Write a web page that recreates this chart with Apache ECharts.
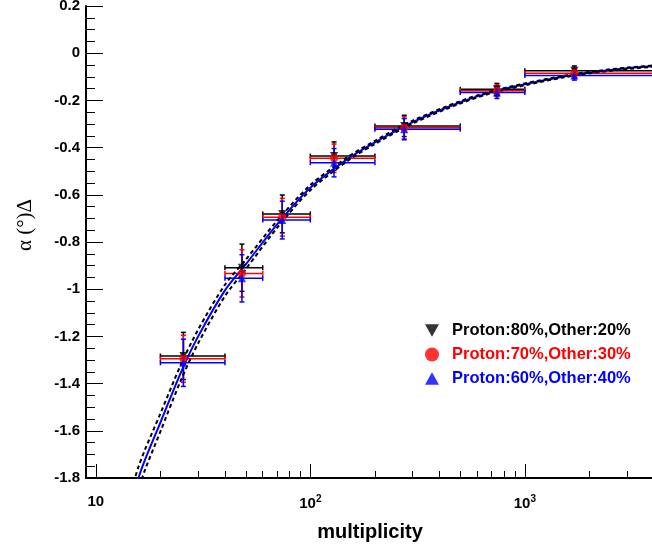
<!DOCTYPE html>
<html>
<head>
<meta charset="utf-8">
<script src="https://cdn.jsdelivr.net/npm/echarts@6/dist/echarts.min.js"></script>
<style>
  html, body { margin: 0; padding: 0; background: #fff; }
  #chart { width: 652px; height: 547px; }
</style>
</head>
<body>
<div id="chart"></div>
<script>
/* ── data ── */
var binMean = [25.6, 48, 74, 129, 274, 741, 1702];
var binLow  = [20, 40, 60, 100, 200, 500, 1000];
var binHigh = [40, 60, 100, 200, 500, 1000, 4000];

var p80 = [-1.283, -0.909, -0.681, -0.436, -0.308, -0.153, -0.074];
var p70 = [-1.295, -0.933, -0.695, -0.445, -0.316, -0.159, -0.085];
var p60 = [-1.312, -0.954, -0.707, -0.464, -0.322, -0.167, -0.094];
var err80 = [0.10, 0.10, 0.08, 0.06, 0.045, 0.025, 0.02];
var err70 = [0.10, 0.10, 0.08, 0.06, 0.047, 0.025, 0.02];
var err60 = [0.10, 0.10, 0.08, 0.06, 0.045, 0.025, 0.02];

// fit curve (solid blue) and its band (black dashed)
var fitM     = [15, 15.8, 17, 20, 25, 30, 40, 50, 70, 100, 150, 200, 300, 500, 700, 1000, 1500, 2000, 3000, 4000];
var fitMid   = [-1.87, -1.80, -1.72, -1.565, -1.35, -1.20, -1.005, -0.895, -0.725, -0.57, -0.447, -0.378, -0.292, -0.208, -0.165, -0.132, -0.100, -0.082, -0.064, -0.055];
var fitUpper = [-1.82, -1.753, -1.677, -1.527, -1.317, -1.171, -0.981, -0.875, -0.71, -0.559, -0.439, -0.371, -0.286, -0.203, -0.161, -0.128, -0.097, -0.079, -0.061, -0.052];
var fitLower = [-1.92, -1.847, -1.763, -1.603, -1.383, -1.229, -1.029, -0.915, -0.74, -0.581, -0.455, -0.385, -0.298, -0.213, -0.169, -0.136, -0.103, -0.085, -0.067, -0.058];

var xMajor  = [10, 100, 1000];
var xLabels = ['10', '10{sup|2}', '10{sup|3}'];
var xMinor  = [20, 30, 40, 50, 60, 70, 80, 90, 200, 300, 400, 500, 600, 700, 800, 900, 2000, 3000];

var names  = ['Proton:80%,Other:20%', 'Proton:70%,Other:30%', 'Proton:60%,Other:40%'];
var colors = ['#000000', '#ff0000', '#0000ff'];
var legendIcons = ['path://M0,0L10,0L5,9Z', 'circle', 'path://M5,0L10,9L0,9Z'];

var FONT = 'Liberation Sans, Arial, Helvetica, sans-serif';

/* ── helpers ── */
function pts(xs, ys) {
  return xs.map(function(x, i) { return [x, ys[i]]; });
}
function errData(ys, es) {
  return binMean.map(function(m, i) { return [m, ys[i], binLow[i], binHigh[i], es[i]]; });
}
function errSeries(ys, es, color) {
  return {
    type: 'custom', z: 2, clip: true, silent: true,
    data: errData(ys, es),
    encode: { x: 0, y: 1 },
    renderItem: function(params, api) {
      var x = api.value(0), y = api.value(1), lo = api.value(2), hi = api.value(3), e = api.value(4);
      var l = api.coord([lo, y]), h = api.coord([hi, y]);
      var t = api.coord([x, y + e]), b = api.coord([x, y - e]);
      var st = { stroke: color, lineWidth: 1.5 };
      var cap = 2.5;
      var seg = function(x1, y1, x2, y2) {
        return { type: 'line', shape: { x1: x1, y1: y1, x2: x2, y2: y2 }, style: st };
      };
      return { type: 'group', children: [
        seg(l[0], l[1], h[0], h[1]),
        seg(t[0], t[1], b[0], b[1]),
        seg(l[0], l[1] - cap, l[0], l[1] + cap),
        seg(h[0], h[1] - cap, h[0], h[1] + cap),
        seg(t[0] - cap, t[1], t[0] + cap, t[1]),
        seg(b[0] - cap, b[1], b[0] + cap, b[1])
      ]};
    }
  };
}
function markSeries(name, ys, color, symbol, rot) {
  return {
    name: name, type: 'scatter', z: 4,
    symbol: symbol, symbolRotate: rot, symbolSize: 8,
    itemStyle: { color: color },
    data: pts(binMean, ys)
  };
}
function fitSeries(ys, color, dashed) {
  return {
    type: 'line', z: 3, silent: true, showSymbol: false, smooth: 0.3,
    data: pts(fitM, ys),
    lineStyle: { color: color, width: 2, type: dashed ? [4, 3] : 'solid' }
  };
}

var chart = echarts.init(document.getElementById('chart'), null, { renderer: 'canvas' });

chart.setOption({
  animation: false,
  backgroundColor: '#fff',
  textStyle: { fontFamily: FONT },
  grid: { left: 86, right: -2, top: 6, bottom: 69, outerBoundsMode: 'none' },
  legend: {
    orient: 'vertical', left: 420, top: 317,
    itemWidth: 14, itemHeight: 14, itemGap: 7,
    textStyle: { fontSize: 16.5, fontWeight: 'bold', fontFamily: FONT, lineHeight: 14, padding: [0, 0, 0, 8] },
    data: names.map(function(n, i) {
      return { name: n, icon: legendIcons[i], textStyle: { color: colors[i] } };
    })
  },
  xAxis: [{
    type: 'log', logBase: 10, min: 9, max: 4000,
    axisLine: { onZero: false, lineStyle: { color: '#000', width: 2 } },
    axisTick: { inside: true, length: 14, customValues: xMajor, lineStyle: { color: '#000', width: 1 } },
    axisLabel: {
      customValues: xMajor, margin: 16, color: '#000',
      fontSize: 15, fontWeight: 'bold', fontFamily: FONT,
      formatter: function(v) { return xLabels[xMajor.indexOf(Math.round(v))] || ''; },
      rich: { sup: { fontSize: 10, fontWeight: 'bold', fontFamily: FONT, color: '#000', padding: [0, 0, 9, 0] } }
    },
    splitLine: { show: false },
    name: 'multiplicity', nameLocation: 'middle', nameGap: 44,
    nameTextStyle: { fontSize: 20, fontWeight: 'bold', color: '#000', fontFamily: FONT }
  }, {
    type: 'log', logBase: 10, min: 9, max: 4000, position: 'bottom',
    axisLine: { show: false, onZero: false },
    axisTick: { inside: true, length: 7, customValues: xMinor, lineStyle: { color: '#000', width: 1 } },
    axisLabel: { show: false },
    splitLine: { show: false }
  }],
  yAxis: {
    type: 'value', min: -1.8, max: 0.2, interval: 0.2,
    axisLine: { show: true, onZero: false, lineStyle: { color: '#000', width: 2 } },
    axisTick: { inside: true, length: 17, lineStyle: { color: '#000', width: 1 } },
    minorTick: { show: true, splitNumber: 4, length: 9, lineStyle: { color: '#000', width: 1 } },
    axisLabel: { margin: 6, color: '#000', fontSize: 15, fontWeight: 'bold', fontFamily: FONT },
    splitLine: { show: false }
  },
  graphic: [{
    type: 'text', x: 25, y: 225, rotation: Math.PI / 2,
    style: {
      text: 'α (°)Δ', fill: '#000', align: 'center', verticalAlign: 'middle',
      font: '21px "Liberation Serif", "Times New Roman", serif'
    }
  }],
  series: [
    errSeries(p80, err80, colors[0]),
    errSeries(p70, err70, colors[1]),
    errSeries(p60, err60, colors[2]),
    fitSeries(fitMid, '#0000ff', false),
    fitSeries(fitUpper, '#000000', true),
    fitSeries(fitLower, '#000000', true),
    markSeries(names[0], p80, colors[0], 'triangle', 180),
    markSeries(names[1], p70, colors[1], 'circle', 0),
    markSeries(names[2], p60, colors[2], 'triangle', 0)
  ]
});
</script>
</body>
</html>
